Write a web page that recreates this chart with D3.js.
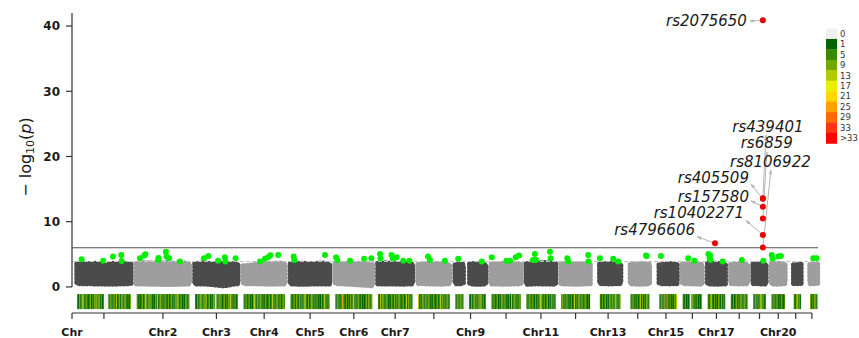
<!DOCTYPE html>
<html>
<head>
<meta charset="utf-8">
<script src="https://cdn.jsdelivr.net/npm/d3@7"></script>
<style>
  html, body { margin: 0; padding: 0; background: #fff; }
  svg { display: block; }
  text { font-family: "DejaVu Sans", sans-serif; }
</style>
</head>
<body>
<svg id="chart" width="859" height="338"></svg>
<script>
// ---- chromosome layout (lengths in Mb, extent of genotyped positions) ----
const chromLength = [249.25, 243.2, 198.0, 191.15, 180.9, 171.1, 159.1, 146.4, 141.2, 135.5, 135.0,
                     133.85, 115.2, 107.3, 102.5, 90.35, 81.2, 78.1, 59.1, 63.0, 48.1, 51.3];
const chromFrom = [1, 0.5, 0.5, 0.5, 0.5, 0.5, 0.5, 0.5, 0.5, 0.5, 0.5, 0.5, 19.5, 20, 20.5, 0.5, 0.5, 0.5, 0.5, 0.5, 15, 17];
const chromTo   = [248.5, 243, 197.5, 191, 180.5, 171, 159, 146, 141, 135.5, 135, 133.5, 115, 107, 102, 90, 81, 78, 59, 62.5, 48, 51];
const gapMb = 24.75;

// x tick labels: axis origin, then one per chromosome centre
const tickLabels = ["Chr", "", "Chr2", "Chr3", "Chr4", "Chr5", "Chr6", "Chr7", "", "Chr9", "", "Chr11", "",
                    "Chr13", "", "Chr15", "", "Chr17", "", "", "Chr20", "", ""];
const yTicks = [0, 10, 20, 30, 40];
const genomeWideLine = 6;
const suggestiveLine = 3.9;

// ---- bulk of the association signal, per segment: -log10(p) upper / lower envelope ----
const segChr  = [1, 2, 3, 4, 5, 6, 7, 8, 9, 9, 10, 11, 12, 13, 14, 15, 16, 17, 18, 19, 20, 21, 22];
const segFrom = [1, 0.5, 0.5, 0.5, 0.5, 0.5, 0.5, 0.5, 0.5, 67, 0.5, 0.5, 0.5, 19.5, 20, 20.5, 0.5, 0.5, 0.5, 0.5, 0.5, 15, 17];
const segTo   = [248.5, 243, 197.5, 191, 180.5, 171, 159, 146, 37, 141, 135.5, 135, 133.5, 115, 107, 102, 90, 81, 78, 59, 62.5, 48, 51];
const segTop = [
  [3.45, 3.6, 3.5, 3.6, 3.15, 3.6, 3.55, 3.6, 3.45],
  [3.55, 3.7, 3.65, 3.65, 3.7, 3.6, 3.7, 3.55],
  [3.5, 3.65, 3.6, 3.5, 3.6, 3.55, 3.5],
  [3.2, 3.3, 3.45, 3.6, 3.55, 3.65, 3.5],
  [3.5, 3.6, 3.6, 3.5, 3.6, 3.65, 3.45],
  [3.55, 3.55, 3.5, 3.55, 3.6, 3.5, 3.4],
  [3.6, 3.7, 3.6, 3.6, 3.55, 3.6, 3.5],
  [3.4, 3.5, 3.5, 3.55, 3.5, 3.45, 3.35],
  [3.35, 3.5, 3.4],
  [3.45, 3.55, 3.5, 3.45, 3.35],
  [3.45, 3.55, 3.6, 3.5, 3.55, 3.45],
  [3.55, 3.65, 3.6, 3.7, 3.65, 3.55],
  [3.5, 3.6, 3.55, 3.5, 3.55, 3.45],
  [3.45, 3.6, 3.55, 3.45],
  [3.4, 3.5, 3.55, 3.45],
  [3.35, 3.5, 3.55, 3.45],
  [3.45, 3.55, 3.5, 3.4],
  [3.55, 3.65, 3.55, 3.45],
  [3.4, 3.5, 3.5, 3.4],
  [3.45, 3.55, 3.45],
  [3.45, 3.6, 3.5],
  [3.35, 3.45],
  [3.4, 3.45]
];
const segBottom = [
  [0.55, 0.45, 0.5, 0.55], [0.5, 0.4, 0.45, 0.5], [0.55, 0.2, 0.45, 0.5], [0.5, 0.45, 0.5, 0.55], [0.5, 0.5, 0.45, 0.5],
  [0.2, 0.35, 0.45, 0.55], [0.5, 0.45, 0.5, 0.5], [0.5, 0.45, 0.5, 0.55], [0.55, 0.5, 0.55], [0.5, 0.45, 0.5],
  [0.5, 0.45, 0.5], [0.45, 0.5, 0.45], [0.5, 0.45, 0.5], [0.55, 0.5, 0.55], [0.5, 0.45, 0.5],
  [0.55, 0.5, 0.55], [0.45, 0.5, 0.55], [0.5, 0.45, 0.5], [0.55, 0.5, 0.55], [0.5, 0.5, 0.55],
  [0.55, 0.45, 0.5], [0.55, 0.55], [0.55, 0.55]
];

// ---- suggestive hits (between the two lines) ----
const greenChr = [1,1,1,1,1, 2,2,2,2,2,2,2,2,2, 3,3,3,3,3,3, 4,4,4,4,4, 5,5,5, 6,6,6,6,6,
                  7,7,7,7,7,7,7, 8,8,8, 9,9, 10,10,10,10,10, 11,11,11,11,11, 12,12,12,12,
                  13,13,13, 14,14, 15, 16,16, 17,17,17,17,17, 18, 19, 20,20,20,20, 22,22];
const greenPos = [22,121,166,204,206, 16,36,41,100,101,135,138,150,199, 42,62,107,138,140,187,
                  76,99,114,124,160, 15,18,159, 4,10,68,133,166, 10,12,63,69,86,117,145,
                  46,55,124, 14,122, 2,70,86,112,127, 31,40,45,109,112, 29,33,125,126,
                  20,81,104, 92,95, 28, 26,54, 4,11,9,13,69, 51, 47, 2,6,32,44, 32,47];
const greenLogP = [4.24,4.03,4.65,4.9,3.98, 4.4,4.8,5.0,4.14,4.45,5.4,4.65,4.4,3.9,
                   4.4,4.75,4.03,4.55,3.9,4.4, 3.9,4.3,4.55,4.85,4.9, 4.65,4.14,4.9,
                   4.55,4.14,4.03,4.3,4.4, 5.05,4.35,4.9,4.35,4.55,4.03,4.03,
                   4.65,4.14,4.03, 4.3,3.9, 4.55,4.03,4.03,4.55,4.8, 4.14,5.05,4.14,5.4,4.4,
                   4.4,3.9,4.9,3.9, 4.4,4.3,3.9, 4.8,4.75, 4.75, 4.4,4.03,
                   5.05,4.8,4.35,4.14,3.9, 4.14, 4.03, 4.9,4.3,4.65,4.75, 4.4,4.4];

// ---- genome-wide significant SNPs ----
const hitName = ["rs2075650", "rs439401", "rs405509", "rs157580", "rs6859", "rs10402271", "rs8106922", "rs4796606"];
const hitChr  = [19, 19, 19, 19, 19, 19, 19, 17];
const hitPos  = [45.0, 45.0, 45.0, 45.0, 45.0, 45.0, 45.0, 34.0];
const hitLogP = [40.9, 13.6, 13.5, 12.3, 10.5, 7.97, 6.05, 6.7];
// label placement relative to the SNP (text anchor point, connector end)
const hitAnchor = ["end", "start", "end", "end", "start", "end", "start", "end"];
const hitTextDx = [-16, -30.6, -13.9, -13.9, -22.2, -18.9, -32.9, -20];
const hitTextDy = [6.3, -66.5, -16.2, -5, -70.1, -16.6, -80.8, -8.2];
const hitLineDx = [-13, 3, -12, -12, 4, -17, 8, -18];
const hitLineDy = [1, -63, -15, -6, -66.5, -14.5, -77.5, -6.5];

// ---- SNP density per window along each chromosome (legend class index; 'a' = >33) ----
const densityClass = [
  "21312421321231213231413120000213123141231321321213",
  "3121231242132312132412312132131231213241231213212",
  "2131232132412312132021323123121324121312",
  "213123121342131231213212312412132131232",
  "212313213121342131232121312131241213",
  "21312173213121312412132131212313213",
  "21413212312132131213212312413121",
  "412132131231213212312413121321",
  "21312313000002131231213241312",
  "213123121321312131712312132",
  "212313213121342131231213121",
  "231213121312412132131232121",
  "21312312132131241213",
  "213121312413121321",
  "21312318213121324",
  "213121302312131213",
  "21342131213213121",
  "2131231213212312",
  "213121342312",
  "2131231213212",
  "2134231",
  "3121321"
];
const legendLabels = ["0", "1", "5", "9", "13", "17", "21", "25", "29", "33", ">33"];
const legendColors = ["#f0f0f0", "#006400", "#3a8a00", "#72a800", "#b2cc00", "#e8ef00",
                      "#ffd800", "#ffa200", "#ff6a00", "#ff3412", "#ff0000"];

// ---- scales ----
const offset = [];
let acc = 0;
chromLength.forEach(L => { offset.push(acc); acc += L + gapMb; });
const genomeEnd = acc - gapMb;

const x = d3.scaleLinear().domain([-22, genomeEnd]).range([72, 817.5]);
const y = d3.scaleLinear().domain([-4, 42]).range([313, 13]);
const gx = (c, p) => x(offset[c - 1] + p);

const svg = d3.select("#chart");
const dark = "#4b4b4b", light = "#9e9e9e";
const axisColor = "#333";

// arrow head for label connectors
svg.append("defs").append("marker")
  .attr("id", "arrow").attr("viewBox", "0 0 10 10").attr("refX", 9).attr("refY", 5)
  .attr("markerWidth", 5).attr("markerHeight", 5).attr("orient", "auto")
  .append("path").attr("d", "M0,1.5 L10,5 L0,8.5 Z").attr("fill", "#b5b5b5");

// ---- bulk clouds: filled envelope with a beaded outline of overlapping dots ----
const cloud = svg.append("g");
segChr.forEach((c, k) => {
  const a = segFrom[k], b = segTo[k];
  const top = segTop[k], bot = segBottom[k];
  const ptsTop = top.map((v, j) => [gx(c, a + (b - a) * j / (top.length - 1)), y(v)]);
  const ptsBot = bot.map((v, j) => [gx(c, b - (b - a) * j / (bot.length - 1)), y(v)]);
  const col = c % 2 === 1 ? dark : light;
  const d = d3.line()(ptsTop.concat(ptsBot)) + "Z";
  cloud.append("path")
    .attr("d", d).attr("fill", col).attr("stroke", col)
    .attr("stroke-width", 3.6).attr("stroke-linejoin", "round");
  cloud.append("path")
    .attr("d", d).attr("fill", "none").attr("stroke", col)
    .attr("stroke-width", 5.6).attr("stroke-linecap", "round")
    .attr("stroke-dasharray", "0 3.7");
});

// ---- threshold lines ----
svg.append("line")
  .attr("x1", x.range()[0]).attr("x2", 818)
  .attr("y1", y(suggestiveLine)).attr("y2", y(suggestiveLine))
  .attr("stroke", "#c4c4c4").attr("stroke-width", 1).attr("stroke-dasharray", "4,2");
svg.append("line")
  .attr("x1", x.range()[0]).attr("x2", 818)
  .attr("y1", y(genomeWideLine)).attr("y2", y(genomeWideLine))
  .attr("stroke", "#505050").attr("stroke-width", 1.1);

// ---- suggestive points ----
svg.append("g").selectAll("circle")
  .data(d3.range(greenChr.length))
  .join("circle")
  .attr("cx", i => gx(greenChr[i], greenPos[i]))
  .attr("cy", i => y(greenLogP[i]))
  .attr("r", 3)
  .attr("fill", "#00ee00");

// ---- label connectors, significant points, labels ----
const hits = d3.range(hitName.length);
const hx = i => gx(hitChr[i], hitPos[i]);
const hy = i => y(hitLogP[i]);
svg.append("g").selectAll("line")
  .data(hits).join("line")
  .attr("x1", hx).attr("y1", hy)
  .attr("x2", i => hx(i) + hitLineDx[i]).attr("y2", i => hy(i) + hitLineDy[i])
  .attr("stroke", "#b5b5b5").attr("stroke-width", 1)
  .attr("marker-end", "url(#arrow)");
svg.append("g").selectAll("circle")
  .data(hits).join("circle")
  .attr("cx", hx).attr("cy", hy).attr("r", 3)
  .attr("fill", "#ee0000");
svg.append("g").selectAll("text")
  .data(hits).join("text")
  .attr("x", i => hx(i) + hitTextDx[i])
  .attr("y", i => hy(i) + hitTextDy[i])
  .attr("text-anchor", i => hitAnchor[i])
  .attr("font-size", 15).attr("font-style", "italic").attr("fill", "#1a1a1a")
  .text(i => hitName[i]);

// ---- density strip ----
const strip = svg.append("g");
const stripTop = y(-1.1), stripBottom = y(-3.4);
densityClass.forEach((s, ci) => {
  const c = ci + 1;
  const a = chromFrom[ci], b = chromTo[ci];
  const w = (b - a) / s.length;
  for (let j = 0; j < s.length; j++) {
    const k = parseInt(s[j], 11);
    const x0 = gx(c, a + j * w), x1 = gx(c, a + (j + 1) * w);
    strip.append("rect")
      .attr("x", x0).attr("y", stripTop)
      .attr("width", x1 - x0 + (j < s.length - 1 ? 0.25 : 0))
      .attr("height", stripBottom - stripTop)
      .attr("fill", legendColors[k]);
  }
});

// ---- y axis ----
const yAxis = svg.append("g");
yAxis.append("line").attr("x1", 72).attr("x2", 72).attr("y1", 13).attr("y2", y(0))
  .attr("stroke", axisColor).attr("stroke-width", 1.2);
yTicks.forEach(t => {
  yAxis.append("line").attr("x1", 66).attr("x2", 72).attr("y1", y(t)).attr("y2", y(t))
    .attr("stroke", axisColor).attr("stroke-width", 1.2);
  yAxis.append("text").attr("x", 60).attr("y", y(t)).attr("dy", "0.36em")
    .attr("text-anchor", "end").attr("font-size", 12).attr("font-weight", "bold")
    .attr("fill", "#1a1a1a").text(t);
});
const ylab = svg.append("text")
  .attr("transform", "translate(31,157) rotate(-90)")
  .attr("text-anchor", "middle").attr("font-size", 16).attr("fill", "#1a1a1a");
ylab.append("tspan").text("\u2212 log");
ylab.append("tspan").attr("font-size", 11).attr("dy", 3).text("10");
ylab.append("tspan").attr("dy", -3).text("(");
ylab.append("tspan").attr("font-style", "italic").text("p");
ylab.append("tspan").text(")");

// ---- x axis ----
const tickPos = [x.domain()[0]].concat(chromLength.map((L, i) => offset[i] + L / 2));
const xAxis = svg.append("g");
xAxis.append("line")
  .attr("x1", x(tickPos[0])).attr("x2", x(tickPos[tickPos.length - 1]))
  .attr("y1", 313).attr("y2", 313)
  .attr("stroke", axisColor).attr("stroke-width", 1.2);
tickPos.forEach((p, i) => {
  xAxis.append("line").attr("x1", x(p)).attr("x2", x(p)).attr("y1", 313).attr("y2", 319)
    .attr("stroke", axisColor).attr("stroke-width", 1.2);
  if (tickLabels[i]) {
    xAxis.append("text").attr("x", x(p)).attr("y", 336)
      .attr("text-anchor", "middle").attr("font-size", 11).attr("font-weight", "bold")
      .attr("fill", "#1a1a1a").text(tickLabels[i]);
  }
});

// ---- density legend ----
const leg = svg.append("g");
const boxH = 10.45;
legendLabels.forEach((lab, j) => {
  leg.append("rect").attr("x", 826).attr("y", 28.5 + j * boxH)
    .attr("width", 11).attr("height", boxH + 0.3).attr("fill", legendColors[j]);
  leg.append("text").attr("x", 840).attr("y", 28.5 + j * boxH + boxH / 2)
    .attr("dy", "0.36em").attr("font-size", 8.5).attr("fill", "#333").text(lab);
});
</script>
</body>
</html>
